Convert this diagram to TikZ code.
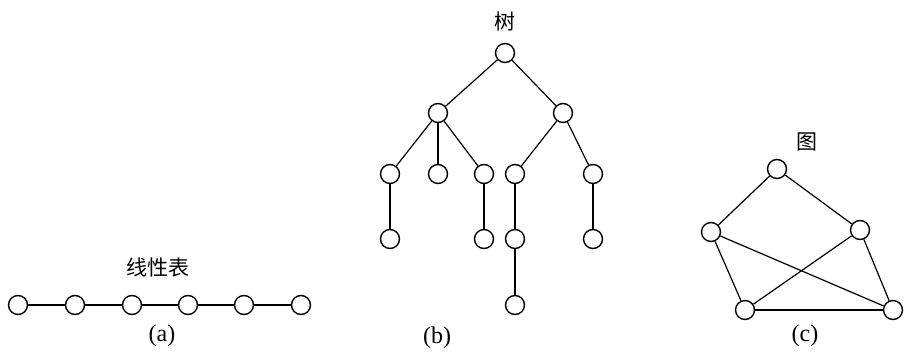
\documentclass[tikz,border=0pt]{standalone}
\usepackage{fontspec}
\setmainfont{Liberation Serif}
\newfontfamily\cjk{Noto Sans CJK SC}
\begin{document}
\begin{tikzpicture}[x=1pt,y=-1pt,
  vtx/.style={circle,draw,line width=1.4pt,fill=white,minimum size=19pt,inner sep=0pt},
  edge/.style={line width=1.2pt},
  sublabel/.style={font=\fontsize{24}{24}\selectfont},
  ttl/.style={font=\cjk\fontsize{21}{21}\selectfont}]
\useasboundingbox (0,0) rectangle (904,353);
% (a) linear list
\foreach \i/\x in {1/18,2/75,3/132,4/188,5/244,6/301}{\node[vtx] (a\i) at (\x,305) {};}
\foreach \i/\j in {1/2,2/3,3/4,4/5,5/6}{\draw[edge] (a\i) -- (a\j);}
\node[ttl] (ta) at (158,267) {线性表};
\node[sublabel] (ca) at (162,336) {(a)};
% (b) tree
\node[vtx] (r) at (505,53) {};
\node[vtx] (l) at (438,113) {};
\node[vtx] (rr) at (563,113) {};
\node[vtx] (l1) at (390,174) {};
\node[vtx] (l2) at (438,174) {};
\node[vtx] (l3) at (484,174) {};
\node[vtx] (r1) at (515,174) {};
\node[vtx] (r2) at (593,174) {};
\node[vtx] (l1a) at (390,239) {};
\node[vtx] (l3a) at (484,239) {};
\node[vtx] (r1a) at (515,239) {};
\node[vtx] (r2a) at (593,239) {};
\node[vtx] (r1b) at (515,305) {};
\foreach \p/\c in {r/l,r/rr,l/l1,l/l2,l/l3,rr/r1,rr/r2,l1/l1a,l3/l3a,r1/r1a,r2/r2a,r1a/r1b}{\draw[edge] (\p) -- (\c);}
\node[ttl] (tb) at (505,22) {树};
\node[sublabel] (cb) at (437,338) {(b)};
% (c) graph
\node[vtx] (g1) at (777,169) {};
\node[vtx] (g2) at (711,232) {};
\node[vtx] (g3) at (860,230) {};
\node[vtx] (g4) at (745,310) {};
\node[vtx] (g5) at (893,310) {};
\foreach \p/\c in {g1/g2,g1/g3,g2/g4,g2/g5,g3/g4,g3/g5,g4/g5}{\draw[edge] (\p) -- (\c);}
\node[ttl] (tc) at (807,142) {图};
\node[sublabel] (cc) at (805,336) {(c)};
\end{tikzpicture}
\end{document}
